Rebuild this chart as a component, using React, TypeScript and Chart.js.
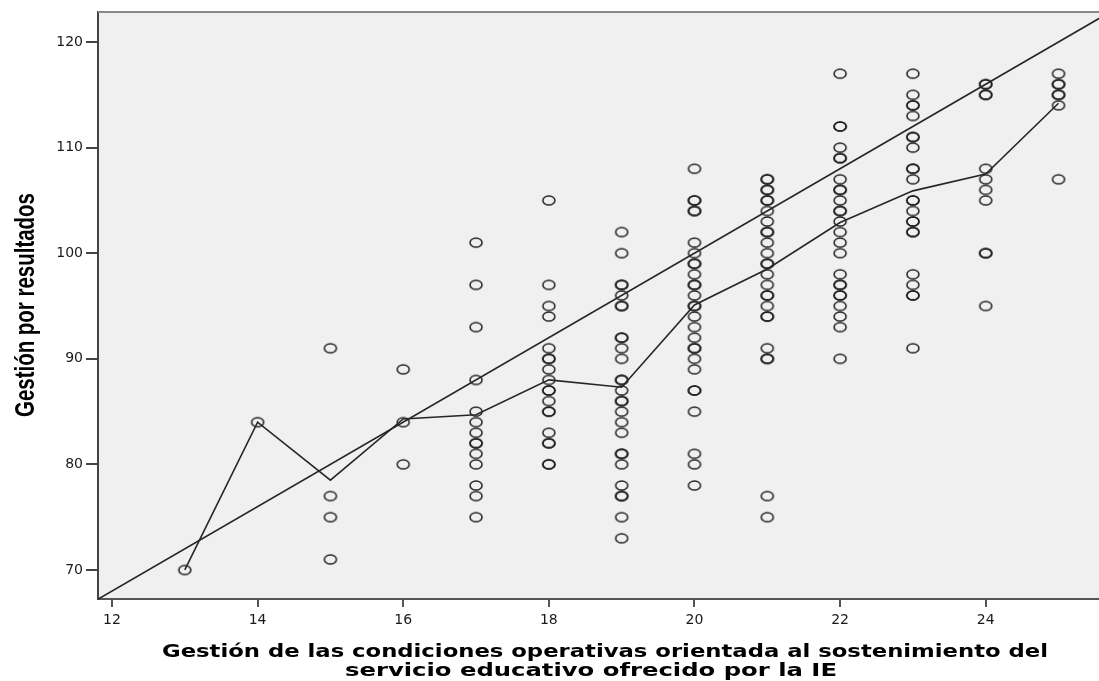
import React, { useEffect, useRef } from "react";
import { Chart, registerables } from "chart.js";

Chart.register(...registerables);

// ---- data ----
const groupX = [13, 14, 15, 16, 17, 18, 19, 20, 21, 22, 23, 24, 25];
const g13 = [70];
const g14 = [84];
const g15 = [91, 77, 75, 71];
const g16 = [89, 84, 80];
const g17 = [101, 97, 93, 88, 85, 84, 83, 82, 82, 81, 80, 78, 77, 75];
const g18 = [105, 97, 95, 94, 91, 90, 90, 89, 88, 87, 87, 86, 85, 85, 83, 82, 82, 80, 80];
const g19 = [102, 100, 97, 97, 96, 95, 95, 92, 92, 91, 90, 88, 88, 87, 86, 86, 85, 84, 83, 81, 81, 80, 78, 77, 77, 75, 73];
const g20 = [108, 105, 105, 104, 104, 101, 100, 99, 99, 98, 97, 97, 96, 95, 95, 94, 93, 92, 91, 91, 90, 89, 87, 87, 85, 81, 80, 78];
const g21 = [107, 107, 106, 106, 105, 105, 104, 103, 102, 102, 101, 100, 99, 99, 98, 97, 96, 96, 95, 94, 94, 91, 90, 90, 77, 75];
const g22 = [117, 112, 112, 110, 109, 109, 107, 106, 106, 105, 104, 104, 103, 102, 101, 100, 98, 97, 97, 96, 96, 95, 94, 93, 90];
const g23 = [117, 115, 114, 114, 113, 111, 111, 110, 108, 108, 107, 105, 105, 104, 103, 103, 102, 102, 98, 97, 96, 96, 91];
const g24 = [116, 116, 115, 115, 108, 107, 106, 105, 100, 100, 95];
const g25 = [117, 116, 116, 115, 115, 114, 107];
const groupY = [g13, g14, g15, g16, g17, g18, g19, g20, g21, g22, g23, g24, g25];

const meanY = [70, 84, 78.5, 84.3, 84.7, 88.0, 87.3, 95.1, 98.5, 102.9, 105.9, 107.5, 114.2];

const fitX = [11.8, 25.6];
const fitY = [67.2, 122.4];

const xTicks = [12, 14, 16, 18, 20, 22, 24];
const yTicks = [70, 80, 90, 100, 110, 120];

const xTitle = [
  "Gestión de las condiciones operativas orientada al sostenimiento del",
  "servicio educativo ofrecido por la IE",
];
const yTitle = "Gestión por resultados";

function makeRing(): HTMLCanvasElement {
  const c = document.createElement("canvas");
  c.width = 16;
  c.height = 13;
  const ctx = c.getContext("2d")!;
  ctx.strokeStyle = "#1e1e1e";
  ctx.lineWidth = 1.5;
  ctx.beginPath();
  ctx.ellipse(8, 6.5, 6, 4.6, 0, 0, Math.PI * 2);
  ctx.stroke();
  return c;
}

const framePlugin = {
  id: "spssFrame",
  beforeDraw(chart: any) {
    const { ctx, chartArea } = chart;
    ctx.save();
    ctx.fillStyle = "#ffffff";
    ctx.fillRect(0, 0, chart.width, chart.height);
    ctx.fillStyle = "#f0f0f0";
    ctx.fillRect(chartArea.left, chartArea.top, chartArea.right - chartArea.left, chartArea.bottom - chartArea.top);
    ctx.restore();
  },
  afterDraw(chart: any) {
    const { ctx, chartArea } = chart;
    ctx.save();
    // top border
    ctx.strokeStyle = "#8a8a8a";
    ctx.lineWidth = 2;
    ctx.beginPath();
    ctx.moveTo(chartArea.left, chartArea.top);
    ctx.lineTo(chartArea.right, chartArea.top);
    ctx.stroke();

    // x title (two lines)
    ctx.fillStyle = "#000000";
    ctx.font = 'bold 17px "DejaVu Sans"';
    ctx.textAlign = "center";
    ctx.textBaseline = "alphabetic";
    const lines = [
      { text: xTitle[0], cx: 605, y: 657, w: 886 },
      { text: xTitle[1], cx: 591, y: 676, w: 492 },
    ];
    for (const l of lines) {
      const nat = ctx.measureText(l.text).width;
      ctx.save();
      ctx.translate(l.cx, l.y);
      ctx.scale(l.w / nat, 1);
      ctx.fillText(l.text, 0, 0);
      ctx.restore();
    }

    // y title
    ctx.font = 'bold 27px "Liberation Sans"';
    const natY = ctx.measureText(yTitle).width;
    ctx.save();
    ctx.translate(34, 305);
    ctx.rotate(-Math.PI / 2);
    ctx.scale(224 / natY, 1);
    ctx.fillText(yTitle, 0, 0);
    ctx.restore();
    ctx.restore();
  },
};

export default function App() {
  const ref = useRef<HTMLCanvasElement | null>(null);
  useEffect(() => {
    if (!ref.current) return;
    const ring = makeRing();
    const points: { x: number; y: number }[] = [];
    groupX.forEach((gx, i) => {
      groupY[i].forEach((v) => points.push({ x: gx, y: v }));
    });
    const chart = new Chart(ref.current, {
      type: "scatter",
      data: {
        datasets: [
          {
            type: "line",
            data: fitX.map((x, i) => ({ x, y: fitY[i] })),
            borderColor: "#262626",
            borderWidth: 1.6,
            pointRadius: 0,
            showLine: true,
            fill: false,
            clip: 0,
          } as any,
          {
            type: "line",
            data: groupX.map((x, i) => ({ x, y: meanY[i] })),
            borderColor: "#262626",
            borderWidth: 1.6,
            pointRadius: 0,
            showLine: true,
            fill: false,
            tension: 0,
            clip: 0,
          } as any,
          {
            type: "scatter",
            data: points,
            pointStyle: ring,
            pointRadius: 6,
            clip: false,
          } as any,
        ],
      },
      options: {
        responsive: false,
        animation: false,
        devicePixelRatio: 1,
        layout: { autoPadding: false, padding: { top: 12, right: 0, bottom: 0, left: 0 } },
        plugins: { legend: { display: false }, tooltip: { enabled: false }, title: { display: false } },
        scales: {
          x: {
            type: "linear",
            min: 11.808,
            max: 25.556,
            position: "bottom",
            afterFit: (s: any) => {
              s.height = 82;
              s.paddingLeft = 0;
              s.paddingRight = 0;
            },
            afterBuildTicks: (s: any) => {
              s.ticks = xTicks.map((v) => ({ value: v }));
            },
            ticks: {
              color: "#1a1a1a",
              font: { family: "DejaVu Sans", size: 14 },
              padding: 5,
              maxRotation: 0,
              autoSkip: false,
              callback: (v: any) => String(v),
            },
            grid: { drawOnChartArea: false, drawTicks: true, tickLength: 8, color: "#555555", lineWidth: 2 },
            border: { display: true, color: "#555555", width: 2 },
          },
          y: {
            type: "linear",
            min: 67.25,
            max: 122.84,
            afterFit: (s: any) => {
              s.width = 98;
              s.paddingTop = 0;
              s.paddingBottom = 0;
            },
            afterBuildTicks: (s: any) => {
              s.ticks = yTicks.map((v) => ({ value: v }));
            },
            ticks: {
              color: "#1a1a1a",
              font: { family: "DejaVu Sans", size: 14 },
              padding: 3,
              autoSkip: false,
              callback: (v: any) => String(v),
            },
            grid: { drawOnChartArea: false, drawTicks: true, tickLength: 12, color: "#444444", lineWidth: 2 },
            border: { display: true, color: "#444444", width: 2 },
          },
        },
      },
      plugins: [framePlugin],
    });
    return () => chart.destroy();
  }, []);
  return (
    <div style={{ position: "absolute", left: 0, top: 0, width: 1099, height: 681 }}>
      <canvas ref={ref} width={1099} height={681} style={{ display: "block" }} />
    </div>
  );
}
